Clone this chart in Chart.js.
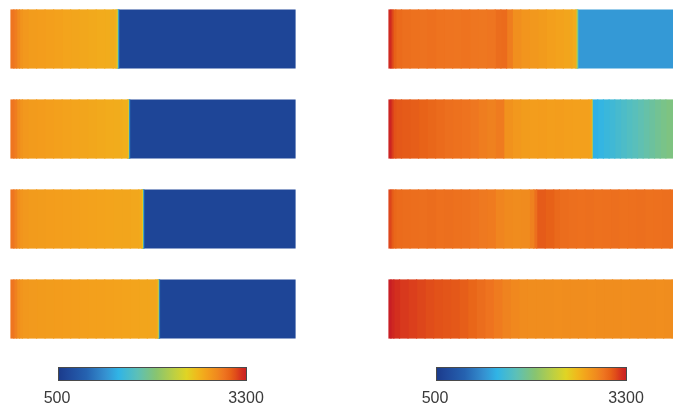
<!DOCTYPE html>
<html><head><meta charset="utf-8">
<script src="https://cdn.jsdelivr.net/npm/chart.js@4"></script>
<style>
html,body{margin:0;padding:0;background:#fff;overflow:hidden;width:673px;height:403px}
canvas{position:absolute;top:0}
#cl{left:0}
#cr{left:336px}
</style></head><body>
<canvas id="cl" width="336" height="403"></canvas>
<canvas id="cr" width="337" height="403"></canvas>
<script>
// ---------- DATA ----------
const rowLabels = ['Case 1', 'Case 2', 'Case 3', 'Case 4'];
const tickLabels = ['500', '3300'];
const tempMin = 500, tempMax = 3300;
// each row: [segment length (% of bar), temperature]
const left1 = [[1,2960],[1,2920],[1,2850],[1,2790],[2,2760],[3,2740],[3,2730],[3,2720],[3,2705],[3,2690],[3,2680],[3,2670],[3,2660],[3,2650],[3,2640],[1,2630],[0.4,2450],[0.3,1500],[0.3,1000],[62,620]];
const left2 = [[1,2960],[1,2920],[1,2840],[1,2790],[2,2760],[3,2745],[3,2735],[3,2725],[3,2710],[3,2700],[3,2690],[3,2680],[3,2670],[3,2660],[3,2650],[3,2640],[2,2625],[0.3,2450],[0.2,1500],[0.3,1000],[58.2,620]];
const left3 = [[1,2960],[1,2900],[1,2820],[1,2780],[2,2760],[3,2745],[3,2740],[3,2730],[3,2725],[3,2720],[3,2710],[3,2705],[3,2700],[3,2695],[3,2690],[3,2685],[3,2680],[3,2670],[1,2650],[0.3,2450],[0.2,1500],[0.3,1000],[53.2,620]];
const left4 = [[1,2960],[1,2900],[1,2820],[1,2780],[2,2760],[3,2750],[3,2745],[3,2740],[3,2735],[3,2730],[3,2725],[3,2720],[3,2715],[3,2710],[3,2705],[3,2700],[3,2695],[3,2690],[3,2685],[3,2680],[0.5,2660],[0.3,2450],[0.2,1500],[0.3,1000],[47.7,620]];
const right1 = [[0.7,3250],[0.7,3150],[1,3060],[2,3010],[3,2990],[3,2980],[3,2975],[3,2985],[3,2970],[3,2965],[3,2960],[3,2970],[3,2955],[3,2950],[3,2960],[2,3000],[2,3010],[2,2920],[3,2820],[3,2780],[3,2760],[3,2745],[3,2720],[3,2700],[3,2680],[1.4,2650],[0.4,2200],[0.3,1600],[33.5,1250]];
const right2 = [[0.7,3270],[0.7,3180],[1,3110],[2,3090],[3,3080],[3,3070],[3,3050],[3,3030],[3,3010],[3,2990],[3,2980],[3,2970],[3,2950],[3,2920],[3,2900],[3,2930],[3,2800],[3,2760],[3,2740],[3,2730],[3,2735],[3,2725],[3,2730],[3,2720],[3,2715],[3,2710],[0.8,2690],[0.3,2450],[2,1380],[2,1420],[2,1460],[2,1500],[2,1540],[2,1580],[2,1620],[2,1660],[2,1700],[2,1740],[2,1780],[2,1820],[2,1860],[2.5,1890]];
const right3 = [[0.7,3150],[0.7,3080],[1,3030],[2,3010],[3,3000],[3,2995],[3,2990],[3,3000],[3,2985],[3,2990],[3,2980],[3,2975],[3,2960],[3,2940],[3,2930],[3,2880],[3,2850],[3,2840],[3,2845],[1.6,2900],[1,2990],[3,3080],[3,3060],[2,3020],[3,3000],[3,2990],[3,2985],[3,2990],[3,2980],[3,2985],[3,2990],[3,2980],[3,2985],[3,2990],[3,2980],[3,2985],[3,2990],[1,2985]];
const right4 = [[0.7,3300],[1,3260],[2,3220],[3,3190],[3,3170],[3,3150],[3,3130],[3,3110],[3,3100],[3,3090],[3,3070],[3,3040],[3,3000],[3,2970],[3,2930],[3,2890],[3,2860],[3,2840],[3,2830],[3,2835],[3,2830],[3,2825],[3,2830],[3,2835],[3,2830],[3,2825],[3,2830],[3,2835],[3,2830],[3,2825],[3,2830],[3,2835],[3,2830],[3,2825],[3,2830],[0.3,2830]];

// ---------- COLORMAP ----------
const cmapStops = [
  [0.00,'#1a3a8a'],[0.05,'#1f4799'],[0.15,'#2562b0'],[0.25,'#3590d0'],[0.32,'#30b4e6'],
  [0.42,'#5cc0b8'],[0.52,'#88c470'],[0.62,'#c0d040'],[0.68,'#e0d424'],[0.74,'#f0b81c'],
  [0.79,'#f3a01c'],[0.84,'#f08a1e'],[0.88,'#ee7420'],[0.91,'#e86418'],[0.94,'#e04c1a'],
  [0.97,'#d4301e'],[1.00,'#c81e24']
];
function hexRgb(h){return [parseInt(h.slice(1,3),16),parseInt(h.slice(3,5),16),parseInt(h.slice(5,7),16)];}
function tempColor(v){
  const t = Math.min(1, Math.max(0, (v - tempMin) / (tempMax - tempMin)));
  for (let i = 1; i < cmapStops.length; i++) {
    if (t <= cmapStops[i][0]) {
      const [t0,c0] = cmapStops[i-1], [t1,c1] = cmapStops[i];
      const f = (t - t0) / (t1 - t0), a = hexRgb(c0), b = hexRgb(c1);
      return 'rgb(' + a.map((x,k)=>Math.round(x + (b[k]-x)*f)).join(',') + ')';
    }
  }
  return cmapStops[cmapStops.length-1][1];
}

function buildDatasets(rows){
  const n = Math.max(...rows.map(r => r.length));
  const ds = [];
  for (let j = 0; j < n; j++) {
    ds.push({
      data: rows.map(r => r[j] ? r[j][0] : null),
      backgroundColor: rows.map(r => r[j] ? tempColor(r[j][1]) : 'rgba(0,0,0,0)'),
      borderWidth: 0,
      inflateAmount: 0.6,
      categoryPercentage: 1,
      barPercentage: 58/90,
      clip: false
    });
  }
  return ds;
}

const colorbarPlugin = {
  id: 'colorbar',
  afterDraw(chart, args, o){
    const ctx = chart.ctx;
    ctx.save();
    const g = ctx.createLinearGradient(o.x0, 0, o.x1, 0);
    cmapStops.forEach(s => g.addColorStop(s[0], s[1]));
    ctx.fillStyle = g;
    ctx.fillRect(o.x0, o.y0, o.x1 - o.x0, o.y1 - o.y0);
    ctx.strokeStyle = '#4a4a4a';
    ctx.lineWidth = 1;
    ctx.strokeRect(o.x0 + 0.5, o.y0 + 0.5, o.x1 - o.x0 - 1, o.y1 - o.y0 - 1);
    ctx.fillStyle = '#3a3a3a';
    ctx.font = "16px 'Liberation Sans Narrow', 'Liberation Sans', Arial, sans-serif";
    ctx.textAlign = 'center';
    ctx.textBaseline = 'alphabetic';
    ctx.fillText(tickLabels[0], o.x0 - 1, o.ty);
    ctx.fillText(tickLabels[1], o.x1 - 1, o.ty);
    ctx.restore();
  }
};

function makeChart(id, rows, pad, cb){
  return new Chart(document.getElementById(id), {
    type: 'bar',
    data: { labels: rowLabels, datasets: buildDatasets(rows) },
    options: {
      indexAxis: 'y',
      responsive: false,
      animation: false,
      devicePixelRatio: 1,
      layout: { padding: pad },
      scales: {
        x: { type: 'linear', stacked: true, min: 0, max: 100, display: false },
        y: { type: 'category', stacked: true, offset: false, display: false }
      },
      plugins: { legend: { display: false }, tooltip: { enabled: false }, colorbar: cb }
    },
    plugins: [colorbarPlugin]
  });
}

makeChart('cl', [left1, left2, left3, left4],
  { left: 11, right: 41, top: 39, bottom: 94 },
  { x0: 58, x1: 247, y0: 367, y1: 381, ty: 403 });
makeChart('cr', [right1, right2, right3, right4],
  { left: 53, right: 0, top: 39, bottom: 94 },
  { x0: 100, x1: 291, y0: 367, y1: 381, ty: 403 });
</script>
</body></html>
